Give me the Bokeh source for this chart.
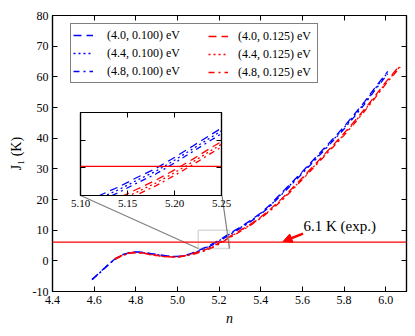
from bokeh.plotting import figure
from bokeh.models import (Range1d, LinearAxis, FixedTicker, PrintfTickFormatter, Span,
                          Label, Arrow, NormalHead, Legend, LegendItem, GridBox, BoxAnnotation)
from bokeh.embed import file_html
from bokeh.resources import INLINE

FONT = "Liberation Serif"
BLUE = "#0000ff"
RED = "#ff0000"
GRAY = "#808080"

n_blue = [4.59, 4.62, 4.65, 4.68, 4.71, 4.74, 4.77, 4.80, 4.83, 4.86, 4.89, 4.92, 4.95, 4.98,
          5.01, 5.04, 5.06, 5.08, 5.10, 5.12, 5.14, 5.16, 5.18, 5.20, 5.22, 5.24, 5.26, 5.28,
          5.30, 5.35, 5.40, 5.45, 5.50, 5.55, 5.60, 5.65, 5.70, 5.75, 5.80, 5.85, 5.90, 5.95, 6.01]
J_b40 = [-6.0, -4.2, -2.3, -0.4, 1.1, 2.1, 2.7, 2.9, 2.8, 2.5, 2.2, 1.9, 1.6, 1.45, 1.5, 1.9,
         2.3, 2.8, 3.3, 4.0, 4.6, 5.3, 5.95, 6.75, 7.6, 8.45, 9.3, 10.1, 10.9, 13.1, 15.6, 18.6,
         22.2, 25.6, 29.1, 32.7, 36.4, 40.0, 43.8, 47.8, 52.0, 56.6, 61.8]
J_b44 = [-6.1, -4.3, -2.4, -0.5, 1.0, 2.0, 2.6, 2.85, 2.7, 2.45, 2.1, 1.8, 1.55, 1.4, 1.45, 1.8,
         2.2, 2.65, 3.15, 3.8, 4.4, 5.1, 5.75, 6.55, 7.4, 8.25, 9.1, 9.9, 10.7, 12.9, 15.4, 18.3,
         21.9, 25.3, 28.8, 32.4, 36.0, 39.6, 43.4, 47.4, 51.6, 56.2, 61.4]
J_b48 = [-6.2, -4.4, -2.5, -0.6, 0.9, 1.95, 2.55, 2.8, 2.65, 2.4, 2.05, 1.75, 1.5, 1.35, 1.4, 1.7,
         2.1, 2.5, 3.0, 3.6, 4.2, 4.9, 5.55, 6.35, 7.2, 8.05, 8.9, 9.7, 10.5, 12.7, 15.2, 18.1,
         21.6, 25.0, 28.5, 32.1, 35.7, 39.3, 43.0, 47.0, 51.2, 55.8, 61.0]

n_red = [4.70, 4.73, 4.76, 4.79, 4.82, 4.85, 4.88, 4.91, 4.94, 4.97, 5.00, 5.03, 5.06, 5.08,
         5.10, 5.12, 5.14, 5.16, 5.18, 5.20, 5.22, 5.24, 5.26, 5.28, 5.30, 5.35, 5.40, 5.45,
         5.50, 5.55, 5.60, 5.65, 5.70, 5.75, 5.80, 5.85, 5.90, 5.95, 6.00, 6.07]
J_r40 = [0.7, 1.7, 2.4, 2.8, 2.7, 2.4, 2.0, 1.7, 1.45, 1.3, 1.3, 1.6, 2.1, 2.5, 2.9, 3.3, 3.8,
         4.45, 5.1, 5.85, 6.65, 7.5, 8.3, 9.1, 9.9, 11.9, 14.3, 17.1, 20.2, 23.6, 27.1, 30.7,
         34.3, 37.9, 41.6, 45.5, 49.6, 53.9, 58.3, 63.9]
J_r44 = [0.6, 1.6, 2.3, 2.7, 2.6, 2.3, 1.9, 1.6, 1.4, 1.25, 1.25, 1.5, 2.0, 2.35, 2.75, 3.15,
         3.6, 4.25, 4.9, 5.65, 6.45, 7.3, 8.1, 8.9, 9.7, 11.7, 14.1, 16.8, 19.9, 23.3, 26.8,
         30.4, 34.0, 37.6, 41.2, 45.1, 49.2, 53.5, 57.9, 63.5]
J_r48 = [0.5, 1.5, 2.25, 2.65, 2.55, 2.25, 1.85, 1.55, 1.35, 1.2, 1.2, 1.45, 1.9, 2.2, 2.6, 3.0,
         3.45, 4.05, 4.7, 5.45, 6.25, 7.1, 7.9, 8.7, 9.5, 11.5, 13.9, 16.6, 19.6, 23.0, 26.5,
         30.1, 33.7, 37.3, 40.9, 44.8, 48.9, 53.2, 57.6, 63.2]

labels_blue = ["(4.0, 0.100) eV", "(4.4, 0.100) eV", "(4.8, 0.100) eV"]
labels_red = ["(4.0, 0.125) eV", "(4.4, 0.125) eV", "(4.8, 0.125) eV"]

x_ticks = [4.4, 4.6, 4.8, 5.0, 5.2, 5.4, 5.6, 5.8, 6.0]
y_ticks = [-10, 0, 10, 20, 30, 40, 50, 60, 70, 80]
inset_x_ticks = [5.10, 5.15, 5.20, 5.25]
inset_y_ticks = [6, 8]

J_exp = 6.1
exp_label = "6.1 K (exp.)"
exp_label_pos = (5.605, 11.3)
arrow_start = (5.603, 8.9)
arrow_end = (5.507, 6.3)
zoom_box = (5.10, 5.25, 4.0, 10.0)
inset_corners_main = ((4.535, 21.3), (5.214, 21.3))

DASHES = ["8 5", "2 3", "6 4 2 4"]


def style_axis(ax, ticks, fmt, show_labels, size="12px"):
    ax.ticker = FixedTicker(ticks=ticks)
    ax.formatter = PrintfTickFormatter(format=fmt)
    ax.major_tick_in = 5
    ax.major_tick_out = 0
    ax.minor_tick_in = 0
    ax.minor_tick_out = 0
    ax.minor_tick_line_color = None
    ax.axis_line_color = "black"
    ax.axis_line_width = 1.2
    ax.major_tick_line_color = "black"
    ax.major_label_text_font = FONT
    ax.major_label_text_color = "black"
    ax.axis_label_text_font = FONT
    ax.axis_label_text_color = "black"
    ax.major_label_text_font_size = size
    if show_labels:
        ax.major_label_standoff = 4
    else:
        ax.major_label_overrides = {t: "" for t in ticks}
        ax.major_label_standoff = 0
        ax.axis_label_standoff = 0


def draw_series(fig):
    rb, rr = [], []
    for ys, dash in zip([J_b40, J_b44, J_b48], DASHES):
        rb.append(fig.line(n_blue, ys, line_color=BLUE, line_width=1.3, line_dash=dash))
    for ys, dash in zip([J_r40, J_r44, J_r48], DASHES):
        rr.append(fig.line(n_red, ys, line_color=RED, line_width=1.3, line_dash=dash))
    return rb, rr


p = figure(frame_width=354, frame_height=276, output_backend="svg", toolbar_location=None,
           x_range=Range1d(4.4, 6.1), y_range=Range1d(-10, 80),
           min_border_left=52, min_border_right=8, min_border_top=15, min_border_bottom=44)
p.frame_align = False
p.grid.visible = False
p.outline_line_color = "black"
p.outline_line_width = 1.2

style_axis(p.xaxis[0], x_ticks, "%.1f", True)
style_axis(p.yaxis[0], y_ticks, "%d", True)
p.xaxis[0].axis_label = "n"
p.xaxis[0].axis_label_text_font_style = "italic"
p.xaxis[0].axis_label_text_font_size = "14px"
p.xaxis[0].axis_label_standoff = 4
p.yaxis[0].axis_label = "J\u2081 (K)"
p.yaxis[0].axis_label_text_font_style = "normal"
p.yaxis[0].axis_label_text_font_size = "14px"
p.yaxis[0].axis_label_standoff = 6

top_ax = LinearAxis()
style_axis(top_ax, x_ticks, "%.1f", False)
p.add_layout(top_ax, "above")
right_ax = LinearAxis()
style_axis(right_ax, y_ticks, "%d", False)
p.add_layout(right_ax, "right")

rb, rr = draw_series(p)

p.add_layout(Span(location=J_exp, dimension="width", line_color=RED, line_width=1.3))
p.add_layout(BoxAnnotation(left=zoom_box[0], right=zoom_box[1], bottom=zoom_box[2], top=zoom_box[3],
                           fill_alpha=0, line_color=GRAY, line_width=1.5))
p.segment(x0=[zoom_box[0], zoom_box[1]], y0=[zoom_box[2], zoom_box[2]],
          x1=[inset_corners_main[0][0], inset_corners_main[1][0]],
          y1=[inset_corners_main[0][1], inset_corners_main[1][1]],
          line_color=GRAY, line_width=1.2)

p.add_layout(Label(x=exp_label_pos[0], y=exp_label_pos[1], text=exp_label,
                   text_font=FONT, text_font_size="15px", text_baseline="middle",
                   text_color="black"))
p.add_layout(Arrow(end=NormalHead(size=9, fill_color=RED, line_color=RED),
                   x_start=arrow_start[0], y_start=arrow_start[1],
                   x_end=arrow_end[0], y_end=arrow_end[1],
                   line_color=RED, line_width=2.5))

common_leg = dict(border_line_color="black", border_line_width=1.2,
                  label_text_font=FONT, label_text_font_size="12px", label_text_color="black",
                  glyph_width=20, glyph_height=18, label_height=18, spacing=0, padding=2,
                  margin=0)
legA = Legend(items=[LegendItem(label=l, renderers=[r]) for l, r in zip(labels_blue, rb)],
              location=(18, 208), label_standoff=14, label_width=208, **common_leg)
p.add_layout(legA, "center")
legB = Legend(items=[LegendItem(label=l, renderers=[r]) for l, r in zip(labels_red, rr)],
              location=(154, 208), label_standoff=10, **common_leg)
legB.border_line_alpha = 0
legB.background_fill_alpha = 0
p.add_layout(legB, "center")

inset = figure(frame_width=141, frame_height=83, output_backend="svg", toolbar_location=None,
               x_range=Range1d(5.10, 5.25), y_range=Range1d(4, 10),
               min_border_left=15, min_border_right=15, min_border_top=2, min_border_bottom=20)
inset.frame_align = False
inset.border_fill_alpha = 0
inset.background_fill_color = "white"
inset.grid.visible = False
inset.outline_line_color = "black"
inset.outline_line_width = 1.2
style_axis(inset.xaxis[0], inset_x_ticks, "%.2f", True, size="11px")
style_axis(inset.yaxis[0], inset_y_ticks, "%d", False)
ia = LinearAxis()
style_axis(ia, inset_x_ticks, "%.2f", False)
inset.add_layout(ia, "above")
ir = LinearAxis()
style_axis(ir, inset_y_ticks, "%d", False)
inset.add_layout(ir, "right")
draw_series(inset)
inset.add_layout(Span(location=J_exp, dimension="width", line_color=RED, line_width=1.3))
inset.margin = (110, 0, 0, 65)

layout = GridBox(children=[(p, 0, 0), (inset, 0, 0)])

open("out.html", "w").write(file_html(layout, INLINE))
